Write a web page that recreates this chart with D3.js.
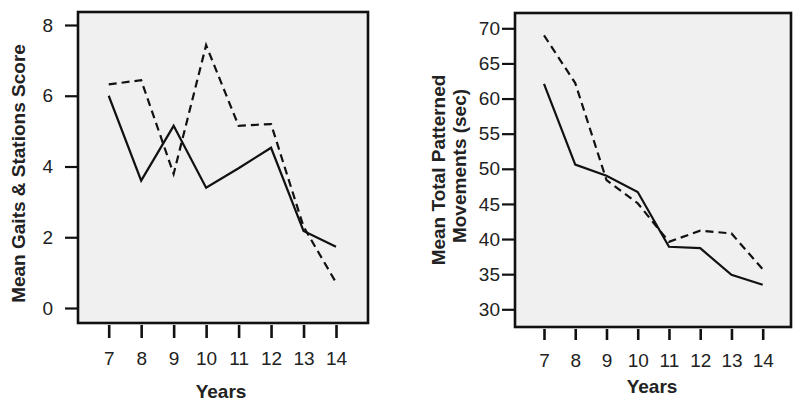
<!DOCTYPE html>
<html>
<head>
<meta charset="utf-8">
<script src="https://cdn.jsdelivr.net/npm/d3@7"></script>
<style>
  body { margin: 0; background: #fff; }
  svg { display: block; font-family: "Liberation Sans", Arial, sans-serif; }
</style>
</head>
<body>
<svg id="canvas" width="800" height="405"></svg>
<script>
// Data
var years = [7, 8, 9, 10, 11, 12, 13, 14];

var gaitsSolid  = [6.0, 3.6, 5.15, 3.4, 3.95, 4.53, 2.18, 1.73];
var gaitsDashed = [6.32, 6.44, 3.79, 7.43, 5.15, 5.2, 2.3, 0.72];
var gaitsTicks  = [0, 2, 4, 6, 8];

var moveSolid  = [62.1, 50.6, 49.0, 46.7, 38.9, 38.7, 34.9, 33.5];
var moveDashed = [69.0, 62.2, 48.4, 45.1, 39.6, 41.2, 40.8, 35.7];
var moveTicks  = [30, 35, 40, 45, 50, 55, 60, 65, 70];

var svg = d3.select('#canvas');

/***********************************************************************/
// One panel

function drawPanel(p){
  var g = svg.append('g');

  var x = d3.scaleLinear().domain([7, 14]).range([p.x0, p.x1]);
  var y = d3.scaleLinear().domain(p.domain).range([p.y0, p.y1]);

  g.append('rect')
    .attr('x', p.left).attr('y', p.top)
    .attr('width', p.right - p.left).attr('height', p.bottom - p.top)
    .attr('fill', '#f0f0f0').attr('stroke', '#111').attr('stroke-width', 2.6);

  // y axis ticks
  var yAxis = d3.axisLeft(y).tickValues(p.ticks).tickFormat(d3.format('d')).tickSize(13).tickPadding(p.yPad);
  var ya = g.append('g').attr('transform', 'translate(' + p.left + ',0)').call(yAxis);
  ya.select('.domain').remove();
  ya.selectAll('line').attr('stroke', '#111').attr('stroke-width', 2.2);
  ya.selectAll('text').attr('font-size', 19).attr('fill', '#222');

  // x axis ticks
  var xAxis = d3.axisBottom(x).tickValues(years).tickFormat(d3.format('d')).tickSize(p.xTick).tickPadding(p.xPad);
  var xa = g.append('g').attr('transform', 'translate(0,' + p.xTop + ')').call(xAxis);
  xa.select('.domain').remove();
  xa.selectAll('line').attr('stroke', '#111').attr('stroke-width', 2.6);
  xa.selectAll('text').attr('font-size', 19).attr('fill', '#222');

  var line = d3.line().x((d, i) => x(years[i])).y(d => y(d));

  g.append('path').datum(p.solid).attr('d', line)
    .attr('fill', 'none').attr('stroke', '#111').attr('stroke-width', 2.2);
  g.append('path').datum(p.dashed).attr('d', line)
    .attr('fill', 'none').attr('stroke', '#111').attr('stroke-width', 2.2)
    .attr('stroke-dasharray', '8,5');

  g.append('text')
    .attr('x', p.xTitleX).attr('y', p.xTitleY)
    .attr('text-anchor', 'middle').attr('font-size', 19).attr('font-weight', 'bold').attr('fill', '#222')
    .text('Years');

  p.yTitle.forEach((t, i) => {
    g.append('text')
      .attr('transform', 'translate(' + p.yTitleX[i] + ',' + p.yTitleMid[i] + ') rotate(-90)')
      .attr('text-anchor', 'middle').attr('font-size', 19).attr('font-weight', 'bold').attr('fill', '#222')
      .text(t);
  });
}

drawPanel({
  left: 78, right: 368, top: 12, bottom: 323,
  x0: 108.7, x1: 336, y0: 308, y1: 25,
  domain: [0, 8], ticks: gaitsTicks, yPad: 12,
  solid: gaitsSolid, dashed: gaitsDashed,
  xTop: 325, xTick: 13, xPad: 13.5, xTitleX: 221, xTitleY: 398,
  yTitle: ['Mean Gaits & Stations Score'], yTitleX: [25], yTitleMid: [173.5]
});

drawPanel({
  left: 515, right: 791, top: 13, bottom: 327,
  x0: 544, x1: 762.7, y0: 309.3, y1: 28.3,
  domain: [30, 70], ticks: moveTicks, yPad: 2,
  solid: moveSolid, dashed: moveDashed,
  xTop: 329, xTick: 11, xPad: 13.5, xTitleX: 652, xTitleY: 393,
  yTitle: ['Mean Total Patterned', 'Movements (sec)'], yTitleX: [445, 466], yTitleMid: [170, 166]
});
</script>
</body>
</html>
